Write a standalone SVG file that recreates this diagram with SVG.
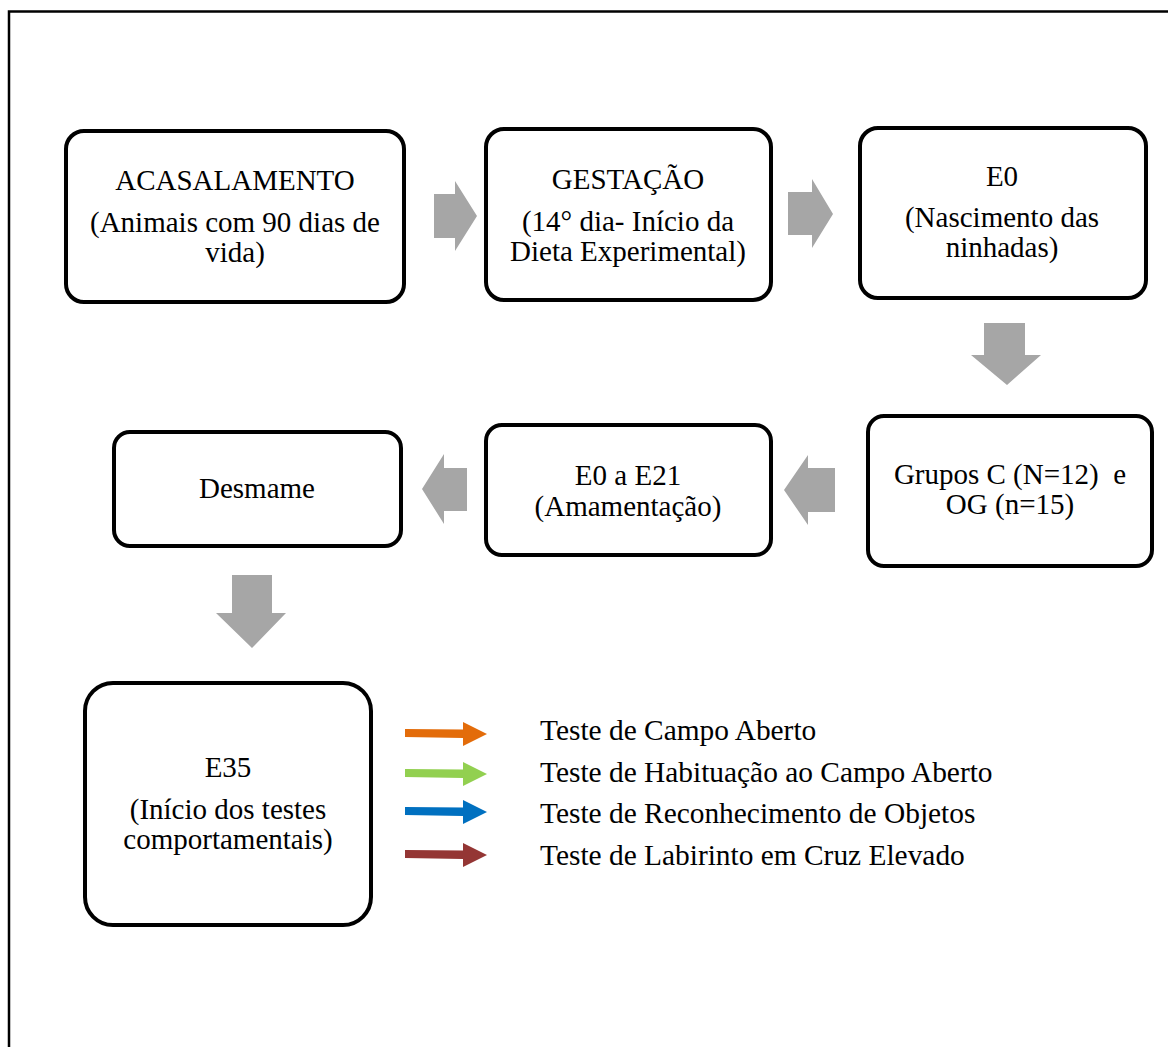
<svg xmlns="http://www.w3.org/2000/svg" width="1168" height="1047" viewBox="0 0 1168 1047">
<style>
.box{fill:#fff;stroke:#000;stroke-width:4}
.t{font-family:"Liberation Serif","Times New Roman",serif;font-size:29px;fill:#000;text-anchor:middle}
.l{font-family:"Liberation Serif","Times New Roman",serif;font-size:29.4px;fill:#000}
.g{fill:#A6A6A6}
</style>
<rect width="1168" height="1047" fill="#fff"/>
<path d="M9,1047 V11.5 H1168" fill="none" stroke="#000" stroke-width="2.5"/>

<g id="connectors">
<polygon class="g" points="434,194 455,194 455,181 477,216 455,251 455,238 434,238"/>
<polygon class="g" points="788,192 812,192 812,179 833,214 812,248 812,235 788,235"/>
<polygon class="g" points="984,323 1025,323 1025,355 1041,355 1007,385 971,355 984,355"/>
<polygon class="g" points="835,468 808,468 808,455 784,490 808,525 808,512 835,512"/>
<polygon class="g" points="467,468 444,468 444,454 422,489 444,524 444,511 467,511"/>
<polygon class="g" points="232,575 272,575 272,613 286,613 252,648 216,613 232,613"/>
<polygon fill="#E36C0A" points="405,729 463,729.5 463,722 487,734 463,746 463,738 405,737"/>
<polygon fill="#92D050" points="405,769 463,769.5 463,762 487,774 463,786 463,778 405,777"/>
<polygon fill="#0070C0" points="405,807 463,807.5 463,800 487,812 463,824 463,816 405,815"/>
<polygon fill="#943634" points="405,850 463,850.5 463,843 487,855 463,867 463,859 405,858"/>
</g>

<g id="n1">
<rect class="box" x="66" y="131" width="338" height="171" rx="18"/>
<text class="t" x="235" y="190">ACASALAMENTO</text>
<text class="t" x="235" y="232">(Animais com 90 dias de</text>
<text class="t" x="235" y="262">vida)</text>
</g>
<g id="n2">
<rect class="box" x="486" y="129" width="285" height="171" rx="18"/>
<text class="t" x="628" y="189">GESTAÇÃO</text>
<text class="t" x="628" y="231">(14° dia- Início da</text>
<text class="t" x="628" y="261">Dieta Experimental)</text>
</g>
<g id="n3">
<rect class="box" x="860" y="128" width="286" height="170" rx="18"/>
<text class="t" x="1002" y="186">E0</text>
<text class="t" x="1002" y="227">(Nascimento das</text>
<text class="t" x="1002" y="257">ninhadas)</text>
</g>
<g id="n4">
<rect class="box" x="868" y="416" width="284" height="150" rx="16"/>
<text class="t" x="1010" y="484" xml:space="preserve">Grupos C (N=12)  e</text>
<text class="t" x="1010" y="514">OG (n=15)</text>
</g>
<g id="n5">
<rect class="box" x="486" y="425" width="285" height="130" rx="16"/>
<text class="t" x="628" y="485">E0 a E21</text>
<text class="t" x="628" y="516">(Amamentação)</text>
</g>
<g id="n6">
<rect class="box" x="114" y="432" width="287" height="114" rx="16"/>
<text class="t" x="257" y="498">Desmame</text>
</g>
<g id="n7">
<rect class="box" x="85" y="683" width="286" height="242" rx="28"/>
<text class="t" x="228" y="777">E35</text>
<text class="t" x="228" y="819">(Início dos testes</text>
<text class="t" x="228" y="849">comportamentais)</text>
</g>
<g id="legend">
<text class="l" x="540" y="740">Teste de Campo Aberto</text>
<text class="l" x="540" y="782">Teste de Habituação ao Campo Aberto</text>
<text class="l" x="540" y="823">Teste de Reconhecimento de Objetos</text>
<text class="l" x="540" y="865">Teste de Labirinto em Cruz Elevado</text>
</g>
</svg>
